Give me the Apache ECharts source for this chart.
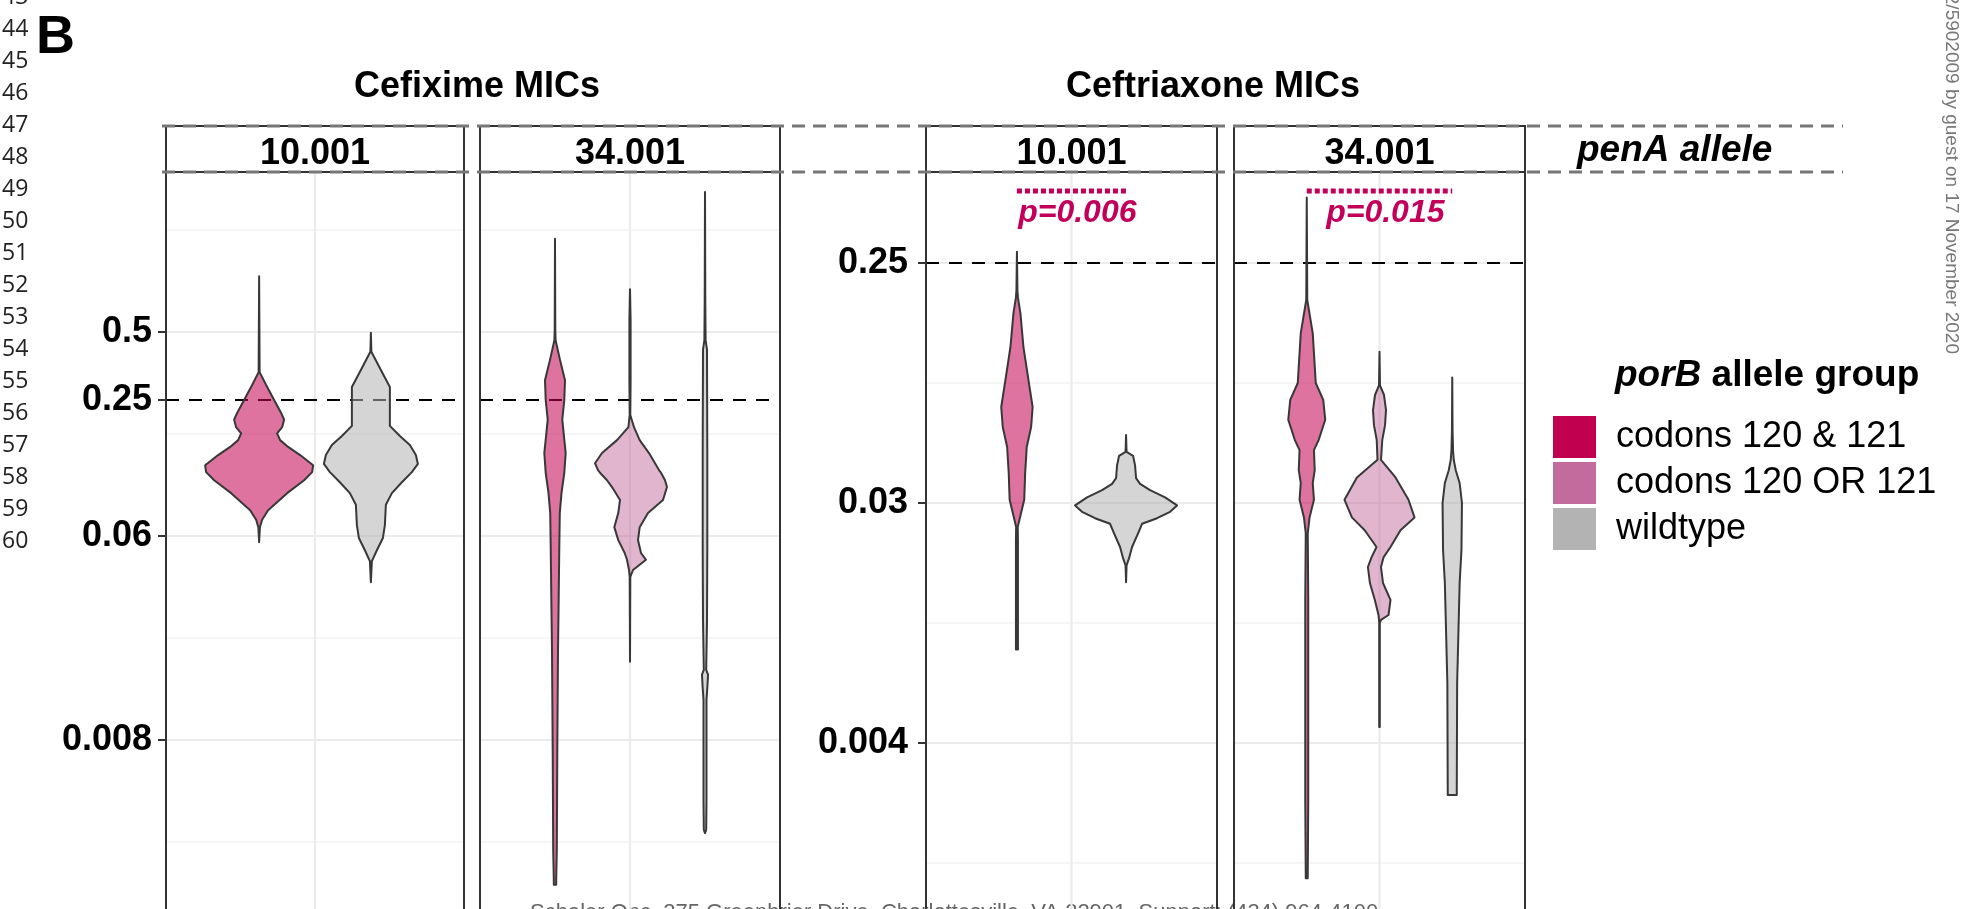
<!DOCTYPE html>
<html><head><meta charset="utf-8">
<script src="https://cdn.jsdelivr.net/npm/echarts@6.0.0/dist/echarts.min.js"></script>
<style>html,body{margin:0;padding:0;background:#fff}#c{width:1969px;height:909px}</style>
</head><body><div id="c"></div>
<script>
// ================= DATA =================
const drugTitles = ['Cefixime MICs', 'Ceftriaxone MICs'];
const penAAlleles = ['10.001', '34.001'];
const porBGroups = ['codons 120 & 121', 'codons 120 OR 121', 'wildtype'];
const groupColors = ['#c1004f', '#c46b9e', '#b3b3b3'];

// y-axis ticks (MIC, log2 scale)
const cfxTickMIC = [0.5, 0.25, 0.0625, 0.0078125];
const cfxTickLabels = ['0.5', '0.25', '0.06', '0.008'];
const cfxMajorLog2 = [-1, -4, -7];
const cfxMinorLog2 = [0.5, -2.5, -5.5, -8.5];
const croTickMIC = [0.25, 0.03125, 0.00390625];
const croTickLabels = ['0.25', '0.03', '0.004'];
const croMajorLog2 = [-2, -5, -8];
const croMinorLog2 = [-3.5, -6.5, -9.5];
const breakpointMIC = [0.25, 0.25];
const pValues = ['p=0.006', 'p=0.015'];

// violin profiles: log2(MIC) and density (half width)
const cfx10_g0_log2mic = [-0.18, -1.59, -1.78, -2.00, -2.19, -2.29, -2.40, -2.49, -2.59, -2.69, -2.81, -2.96, -3.06, -3.18, -3.37, -3.62, -3.76, -3.87, -4.09];
const cfx10_g0_dens    = [0, 0.5, 7, 15, 22, 25, 23, 18, 21, 29, 41, 54, 53, 45, 28, 9, 3, 0.8, 0];
const cfx10_g2_log2mic = [-1.01, -1.29, -1.56, -1.81, -2.38, -2.53, -2.66, -2.81, -2.94, -3.06, -3.21, -3.37, -3.54, -3.84, -4.03, -4.21, -4.37, -4.68];
const cfx10_g2_dens    = [0, 0.5, 10, 19, 19, 29, 39, 45, 47, 41, 31, 21, 15, 14, 12, 6, 1, 0];

const cfx34_g0_log2mic = [0.37, -0.97, -1.12, -1.41, -1.71, -2.00, -2.29, -2.54, -2.78, -3.07, -3.37, -3.66, -4.16, -4.90, -5.68, -7.15, -8.62, -9.06, -9.13];
const cfx34_g0_dens    = [0, 0.3, 0.6, 5, 10, 9.3, 7.3, 9, 10.7, 9.3, 6.5, 4.8, 4.3, 3.7, 3, 2.3, 1.8, 1.2, 1.2];
const cfx34_g1_log2mic = [-0.37, -0.82, -1.71, -2.22, -2.40, -2.59, -2.78, -2.93, -3.03, -3.07, -3.18, -3.28, -3.47, -3.66, -3.87, -4.06, -4.25, -4.35, -4.50, -4.60, -5.85];
const cfx34_g1_densL   = [0, 0.6, 0.6, 0.3, 1.6, 13, 28, 35, 32, 30, 23, 18, 10, 11.7, 15.7, 11.7, 5.3, 3, 1, 0.3, 0];
const cfx34_g1_densR   = [0, 0.6, 0.6, 0.3, 4, 9.7, 19, 25, 29, 31, 35, 37, 33, 18, 9.7, 8, 11, 16, 3, 0.3, 0];
const cfx34_g2_log2mic = [1.06, -0.53, -1.12, -1.26, -2.74, -4.21, -5.24, -5.97, -6.04, -6.19, -6.41, -7.88, -8.32, -8.37];
const cfx34_g2_dens    = [0, 0.3, 0.6, 2, 2.3, 2.3, 2, 1.2, 3, 2.5, 1.5, 1.5, 1.2, 0];

const cro10_g0_log2mic = [-1.86, -2.34, -2.43, -2.63, -3.05, -3.46, -3.80, -4.05, -4.30, -4.63, -4.96, -5.13, -5.30, -5.46, -6.71, -6.83];
const cro10_g0_dens    = [0, 0.5, 1, 3.5, 6.5, 11.5, 15.7, 14.2, 9.8, 8.2, 7.3, 4, 0.8, 1, 1, 1];
const cro10_g2_log2mic = [-4.15, -4.36, -4.41, -4.53, -4.69, -4.76, -4.84, -4.93, -5.03, -5.11, -5.19, -5.26, -5.38, -5.55, -5.69, -5.78, -5.99];
const cro10_g2_dens    = [0, 0.5, 7, 9, 10, 14, 24, 39, 51, 44, 31, 16, 12, 6, 3, 0.5, 0];

const cro34_g0_log2mic = [-1.18, -2.46, -2.65, -2.88, -3.50, -3.71, -3.96, -4.21, -4.34, -4.59, -4.75, -4.96, -5.18, -5.38, -6.21, -8.71, -9.65, -9.69];
const cro34_g0_dens    = [0, 0.5, 3, 6, 9, 16.5, 18.5, 12, 7.2, 8, 6, 7.2, 2.8, 1, 1.5, 1.5, 1, 1];
const cro34_g1_log2mic = [-3.11, -3.53, -3.65, -3.84, -4.03, -4.21, -4.46, -4.68, -4.96, -5.18, -5.34, -5.55, -5.68, -5.80, -6.00, -6.21, -6.40, -6.46, -6.50, -7.80];
const cro34_g1_densL   = [0, 0.5, 4.5, 6.5, 5.5, 2.8, 2, 22.6, 35, 27.6, 14.8, 3, 8, 11.6, 9.6, 4.7, 1, 0.5, 0.3, 0.3];
const cro34_g1_densR   = [0, 0.5, 4.5, 6.5, 5.5, 2.8, 1.5, 16, 29, 35, 21, 11, 4, 1.5, 3.5, 11, 9, 1.5, 0.3, 0.3];
const cro34_g2_log2mic = [-3.43, -4.09, -4.34, -4.46, -4.59, -4.75, -5.00, -5.59, -6.00, -7.25, -8.65];
const cro34_g2_dens    = [0, 0.3, 0.8, 1.5, 3.5, 7.4, 9.7, 9.2, 7.4, 4.9, 4.5];

// page margin texts
const lineNumbers = ['43','44','45','46','47','48','49','50','51','52','53','54','55','56','57','58','59','60'];
const bottomNote = 'Schaler Onc, 375 Greenbrier Drive, Charlottesville, VA 22901. Support: (434) 964-4100';
const sideNote = '2/5902009 by guest on 17 November 2020';

// ================= LAYOUT / BUILD =================
const FF = "'Liberation Sans', Arial, Helvetica, sans-serif";
const panelDefs = [
  {drug: 0, allele: 0, violins: [
    {g: 0, y: cfx10_g0_log2mic, dl: cfx10_g0_dens},
    {g: 2, y: cfx10_g2_log2mic, dl: cfx10_g2_dens}]},
  {drug: 0, allele: 1, violins: [
    {g: 0, y: cfx34_g0_log2mic, dl: cfx34_g0_dens},
    {g: 1, y: cfx34_g1_log2mic, dl: cfx34_g1_densL, dr: cfx34_g1_densR},
    {g: 2, y: cfx34_g2_log2mic, dl: cfx34_g2_dens}]},
  {drug: 1, allele: 0, violins: [
    {g: 0, y: cro10_g0_log2mic, dl: cro10_g0_dens},
    {g: 2, y: cro10_g2_log2mic, dl: cro10_g2_dens}]},
  {drug: 1, allele: 1, violins: [
    {g: 0, y: cro34_g0_log2mic, dl: cro34_g0_dens},
    {g: 1, y: cro34_g1_log2mic, dl: cro34_g1_densL, dr: cro34_g1_densR},
    {g: 2, y: cro34_g2_log2mic, dl: cro34_g2_dens}]}
];
const CANVAS_H = 909;
const PANEL_TOP = 172, STRIP_TOP = 126;
const drugAxes = [
  {tickMIC: cfxTickMIC, tickLabels: cfxTickLabels, major: cfxMajorLog2, minor: cfxMinorLog2, pxPerUnit: 68, max: 1.353, labelMargin: 14, titleX: 477},
  {tickMIC: croTickMIC, tickLabels: croTickLabels, major: croMajorLog2, minor: croMinorLog2, pxPerUnit: 80, max: -0.8625, labelMargin: 18, titleX: 1213}
];
drugAxes.forEach(ax => { ax.min = ax.max - (CANVAS_H - PANEL_TOP) / ax.pxPerUnit; });
const panelLeft = [166, 480, 926, 1234];
const panelWidth = [298, 300, 291, 291];
const DODGE = 1.5;
const P_LINE_L = -1.1, P_TEXT_L = -1.38;
const PCOL = '#c2005a';

function rgba(hex, a) {
  const n = parseInt(hex.slice(1), 16);
  return 'rgba(' + (n >> 16) + ',' + ((n >> 8) & 255) + ',' + (n & 255) + ',' + a + ')';
}

const grids = [], xAxes = [], yAxes = [], series = [], graphics = [];

panelDefs.forEach((pd, pi) => {
  const ax = drugAxes[pd.drug];
  grids.push({left: panelLeft[pi], top: PANEL_TOP, width: panelWidth[pi], bottom: 0, show: false});
  xAxes.push({gridIndex: pi, type: 'value', min: -1, max: 1, show: false});
  const tickL = ax.tickMIC.map(v => Math.log2(v));
  const first = pd.allele === 0;
  yAxes.push({gridIndex: pi, type: 'value', min: ax.min, max: ax.max, show: first,
    axisLine: {show: false, onZero: false}, splitLine: {show: false},
    axisTick: {show: first, customValues: tickL, length: 8, lineStyle: {color: '#333', width: 2}},
    axisLabel: {show: first, customValues: tickL, margin: ax.labelMargin,
      fontFamily: FF, fontSize: 36, fontWeight: 'bold', color: '#000',
      formatter: v => { const i = tickL.findIndex(t => Math.abs(t - v) < 1e-6); return i >= 0 ? ax.tickLabels[i] : ''; }}
  });

  // background grid + breakpoint line
  const gdata = [];
  ax.major.forEach(v => gdata.push([0, v, 0]));
  ax.minor.forEach(v => gdata.push([0, v, 1]));
  gdata.push([0, ax.max, 2]);
  gdata.push([0, Math.log2(breakpointMIC[pd.drug]), 3]);
  series.push({type: 'custom', xAxisIndex: pi, yAxisIndex: pi, z: 1, silent: true, data: gdata,
    renderItem(params, api) {
      const cs = params.coordSys;
      const kind = api.value(2);
      if (kind === 2) {
        const x = api.coord([api.value(0), api.value(1)])[0];
        return {type: 'line', shape: {x1: x, y1: cs.y, x2: x, y2: cs.y + cs.height}, style: {stroke: '#ebebeb', lineWidth: 2.2}};
      }
      const y = api.coord([0, api.value(1)])[1];
      const st = kind === 0 ? {stroke: '#ebebeb', lineWidth: 2.2}
        : kind === 1 ? {stroke: '#ebebeb', lineWidth: 1.2}
        : {stroke: '#000', lineWidth: 2, lineDash: [13, 10]};
      return {type: 'line', shape: {x1: cs.x, y1: y, x2: cs.x + cs.width, y2: y}, style: st};
    }});

  // violins
  const n = pd.violins.length;
  const unitPerDens = 2 / panelWidth[pi];
  const centers = [];
  pd.violins.forEach((v, k) => {
    const center = (k - (n - 1) / 2) * DODGE / n;
    centers.push(center);
    const right = v.dr || v.dl;
    series.push({type: 'custom', name: porBGroups[v.g], xAxisIndex: pi, yAxisIndex: pi, z: 3,
      itemStyle: {color: groupColors[v.g]},
      data: [[center, Math.min(...v.y), Math.max(...v.y)]],
      encode: {x: 0, y: [1, 2]},
      renderItem(params, api) {
        const cx = api.value(0);
        const pts = [];
        for (let i = 0; i < v.y.length; i++) pts.push(api.coord([cx - v.dl[i] * unitPerDens, v.y[i]]));
        for (let i = v.y.length - 1; i >= 0; i--) pts.push(api.coord([cx + right[i] * unitPerDens, v.y[i]]));
        return {type: 'polygon', shape: {points: pts},
          style: {fill: rgba(groupColors[v.g], v.g === 1 ? 0.5 : 0.55), stroke: '#383838', lineWidth: 2, lineJoin: 'round'}};
      }});
  });

  // p-value annotation (ceftriaxone panels)
  if (pd.drug === 1) {
    const label = pValues[pd.allele];
    series.push({type: 'custom', xAxisIndex: pi, yAxisIndex: pi, z: 4, silent: true,
      data: [[centers[0], centers[n - 1]]],
      renderItem(params, api) {
        const a = api.coord([api.value(0), P_LINE_L]);
        const b = api.coord([api.value(1), P_LINE_L]);
        const t = api.coord([(api.value(0) + api.value(1)) / 2 + 0.04, P_TEXT_L]);
        return {type: 'group', children: [
          {type: 'line', shape: {x1: a[0], y1: a[1], x2: b[0], y2: b[1]}, style: {stroke: PCOL, lineWidth: 5, lineDash: [5, 3]}},
          {type: 'text', x: t[0], y: t[1], style: {text: label, fill: PCOL, fontSize: 32, fontWeight: 'bold', fontStyle: 'italic', fontFamily: FF, align: 'center', verticalAlign: 'middle'}}
        ]};
      }});
  }

  // panel border (open at the cropped bottom)
  const L = panelLeft[pi], R = panelLeft[pi] + panelWidth[pi];
  graphics.push({type: 'polyline', z: 19, shape: {points: [[L, CANVAS_H + 10], [L, PANEL_TOP], [R, PANEL_TOP], [R, CANVAS_H + 10]]},
    style: {stroke: '#333', lineWidth: 2, fill: null}});
  // strip
  graphics.push({type: 'rect', z: 20, shape: {x: L, y: STRIP_TOP, width: panelWidth[pi], height: PANEL_TOP - STRIP_TOP},
    style: {fill: '#fff', stroke: '#333', lineWidth: 2}});
  graphics.push({type: 'text', z: 21, x: L + panelWidth[pi] / 2, y: 154,
    style: {text: penAAlleles[pd.allele], fill: '#000', fontSize: 36, fontWeight: 'bold', fontFamily: FF, align: 'center', verticalAlign: 'middle'}});
});

// dashed strip lines
[STRIP_TOP, PANEL_TOP].forEach(y => graphics.push({type: 'line', z: 22,
  shape: {x1: 162, y1: y, x2: 1843, y2: y}, style: {stroke: '#777', lineWidth: 3, lineDash: [13, 8]}}));
graphics.push({type: 'text', z: 23, x: 1577, y: 151,
  style: {text: 'penA allele', fill: '#000', fontSize: 37, fontWeight: 'bold', fontStyle: 'italic', fontFamily: FF, align: 'left', verticalAlign: 'middle'}});

// drug titles
drugAxes.forEach((ax, di) => graphics.push({type: 'text', z: 21, x: ax.titleX, y: 87,
  style: {text: drugTitles[di], fill: '#000', fontSize: 36, fontWeight: 'bold', fontFamily: FF, align: 'center', verticalAlign: 'middle'}}));

// legend title
graphics.push({type: 'text', z: 21, x: 1615, y: 376,
  style: {text: '{i|porB}{b| allele group}', fontFamily: FF, align: 'left', verticalAlign: 'middle',
    rich: {i: {fontSize: 37, fontWeight: 'bold', fontStyle: 'italic', fontFamily: FF, fill: '#000'},
           b: {fontSize: 37, fontWeight: 'bold', fontFamily: FF, fill: '#000'}}}});

// panel letter
graphics.push({type: 'text', z: 21, x: 36, y: 38,
  style: {text: 'B', fill: '#000', fontSize: 54, fontWeight: 'bold', fontFamily: FF, align: 'left', verticalAlign: 'middle'}});

// line numbers
lineNumbers.forEach((t, i) => graphics.push({type: 'text', z: 21, x: 2, y: -3 + i * 32,
  style: {text: t, fill: '#222', fontSize: 23, fontFamily: "'Open Sans', sans-serif", align: 'left', verticalAlign: 'middle'}}));

// bottom and side notes
graphics.push({type: 'text', z: 0, x: 530, y: 902,
  style: {text: bottomNote, fill: '#666', fontSize: 22, fontFamily: FF, align: 'left', verticalAlign: 'top'}});
graphics.push({type: 'text', z: 21, x: 1951, y: 354, rotation: -Math.PI / 2,
  style: {text: sideNote, fill: '#777', fontSize: 19, fontFamily: FF, align: 'right', verticalAlign: 'middle'}});

const chart = echarts.init(document.getElementById('c'), null, {renderer: 'canvas'});
chart.setOption({
  backgroundColor: '#fff',
  animation: false,
  grid: grids,
  xAxis: xAxes,
  yAxis: yAxes,
  legend: {data: porBGroups, orient: 'vertical', left: 1553, top: 416, padding: 0, itemWidth: 43, itemHeight: 42, itemGap: 4,
    icon: 'rect', selectedMode: false,
    textStyle: {fontSize: 36, fontFamily: FF, color: '#000', lineHeight: 42, padding: [0, 0, 0, 15]}},
  graphic: {elements: graphics},
  series: series
});
</script></body></html>
